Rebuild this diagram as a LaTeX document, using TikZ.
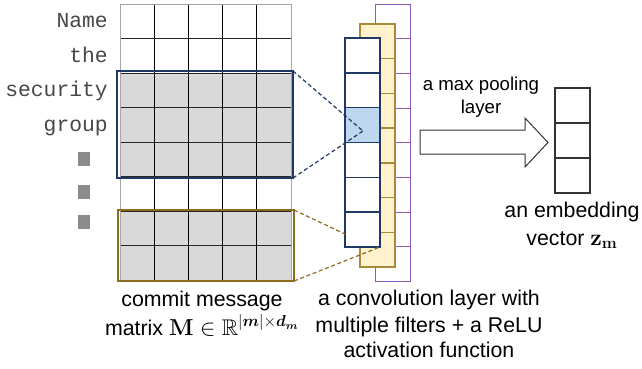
\documentclass[tikz,border=0pt]{standalone}
\usepackage{amsmath,amssymb,bm}
\usepackage[no-math]{fontspec}
\setmainfont{Liberation Sans}
\newfontfamily\cour{Liberation Mono}
\definecolor{gridgray}{HTML}{A6A6A6}
\definecolor{cellgray}{HTML}{D9D9D9}
\definecolor{navy}{HTML}{1F3864}
\definecolor{goldline}{HTML}{8C6D1F}
\definecolor{yelfill}{HTML}{FFF2CC}
\definecolor{yelline}{HTML}{A88B3A}
\definecolor{purp}{HTML}{8A5AB8}
\definecolor{selblue}{HTML}{BDD7EE}
\definecolor{dotgray}{HTML}{8C8C8C}
\begin{document}
\begin{tikzpicture}[x=0.75pt,y=-0.75pt,
  wordlbl/.style={font=\cour\fontsize{16}{19}\selectfont, text=black!72, anchor=base east, inner sep=0pt},
  txt/.style={font=\fontsize{16}{26}\selectfont, align=center, inner sep=0pt},
  smalltxt/.style={font=\fontsize{14}{16.8}\selectfont, align=center, inner sep=0pt},
  thinline/.style={line width=0.75pt},
  selbox/.style={line width=1.6pt},
  dashline/.style={dashed, line width=0.9pt, dash pattern=on 3pt off 2pt}]
\useasboundingbox (0,0) rectangle (642,368);
% ---------- matrix grid ----------
\fill[cellgray] (120,73) rectangle (291,176.5);
\fill[cellgray] (120,211) rectangle (291,280);
\foreach \i in {1,...,4} {
  \draw[thinline,black] ({120+34.2*\i},4) -- ({120+34.2*\i},280);
}
\foreach \j in {1,...,7} {
  \draw[thinline,black!85] (120,{4+34.5*\j}) -- (291,{4+34.5*\j});
}
\draw[thinline,gridgray] (120,4) rectangle (291,280);
% selection boxes
\draw[selbox,navy] (117,71) rectangle (293,178);
\draw[selbox,goldline] (118,210) rectangle (294,281);
\coordinate (bbNE) at (293,71);
\coordinate (bbSE) at (293,178);
\coordinate (gbNE) at (294,210);
\coordinate (gbSE) at (294,281);
% words
\node[wordlbl] (w1) at (108,27) {Name};
\node[wordlbl] (w2) at (108,62) {the};
\node[wordlbl] (w3) at (108,96) {security};
\node[wordlbl] (w4) at (108,131) {group};
\node[fill=dotgray, minimum width=9pt, minimum height=10.5pt, inner sep=0pt] (d1) at (84,159) {};
\node[fill=dotgray, minimum width=9pt, minimum height=10.5pt, inner sep=0pt] (d2) at (84,192) {};
\node[fill=dotgray, minimum width=9pt, minimum height=10.5pt, inner sep=0pt] (d3) at (84,222) {};
% ---------- feature maps ----------
% purple (back)
\draw[thinline,purp,fill=white] (375,4) rectangle (410,281.5);
\foreach \j in {1,...,7} {
  \draw[thinline,purp] (375,{4+34.7*\j}) -- (410,{4+34.7*\j});
}
% yellow (middle)
\draw[line width=1pt,yelline,fill=yelfill] (360,24) rectangle (395,267);
\foreach \j in {1,...,6} {
  \draw[line width=1pt,yelline] (360,{24+34.71*\j}) -- (395,{24+34.71*\j});
}
% blue (front)
\fill[white] (345,38) rectangle (380,247);
\fill[selblue] (345,108) rectangle (380,143);
\foreach \j in {1,...,5} {
  \draw[line width=1.2pt,navy] (345,{38+34.83*\j}) -- (380,{38+34.83*\j});
}
\draw[line width=1.2pt,navy] (345,38) rectangle (380,247);
\coordinate (focus) at (363,131);
\coordinate (blueL) at (345,234);
\coordinate (blueSE) at (380,247);
% dashed connectors
\draw[dashline,navy] (bbNE) -- (focus);
\draw[dashline,navy] (bbSE) -- (focus);
\draw[dashline,goldline] (gbNE) -- (blueL);
\draw[dashline,goldline] (gbSE) -- (blueSE);
% ---------- pooling arrow ----------
\draw[thinline,black!80,fill=white] (420,130) -- (525,130) -- (525,118) -- (548,142.5) -- (525,167) -- (525,154) -- (420,154) -- cycle;
\node[smalltxt] (pool) at (481,97) {a max pooling\\layer};
% ---------- embedding vector ----------
\draw[line width=1.1pt,black!80] (555,88) rectangle (590,193);
\draw[line width=1.1pt,black!80] (555,123) -- (590,123);
\draw[line width=1.1pt,black!80] (555,158) -- (590,158);
\node[txt, anchor=base] (emb1) at (572,217) {an embedding};
\node[txt, anchor=base] (emb2) at (572,245) {vector {\fontsize{18}{20}\selectfont$\bm{\mathrm{z}}_{\mathbf{m}}$}};
% ---------- captions ----------
\node[txt, anchor=base] (cap1a) at (202,306) {commit message};
\node[txt, anchor=base] (cap1b) at (202,335) {matrix {\fontsize{17}{20}\selectfont$\mathbf{M}\in\mathbb{R}^{|\bm{m}|\times \bm{d}_{\bm{m}}}$}};
\node[txt, anchor=base] (cap2a) at (429,305) {a convolution layer with};
\node[txt, anchor=base] (cap2b) at (429,332) {multiple filters + a ReLU};
\node[txt, anchor=base] (cap2c) at (429,357) {activation function};
\end{tikzpicture}
\end{document}
